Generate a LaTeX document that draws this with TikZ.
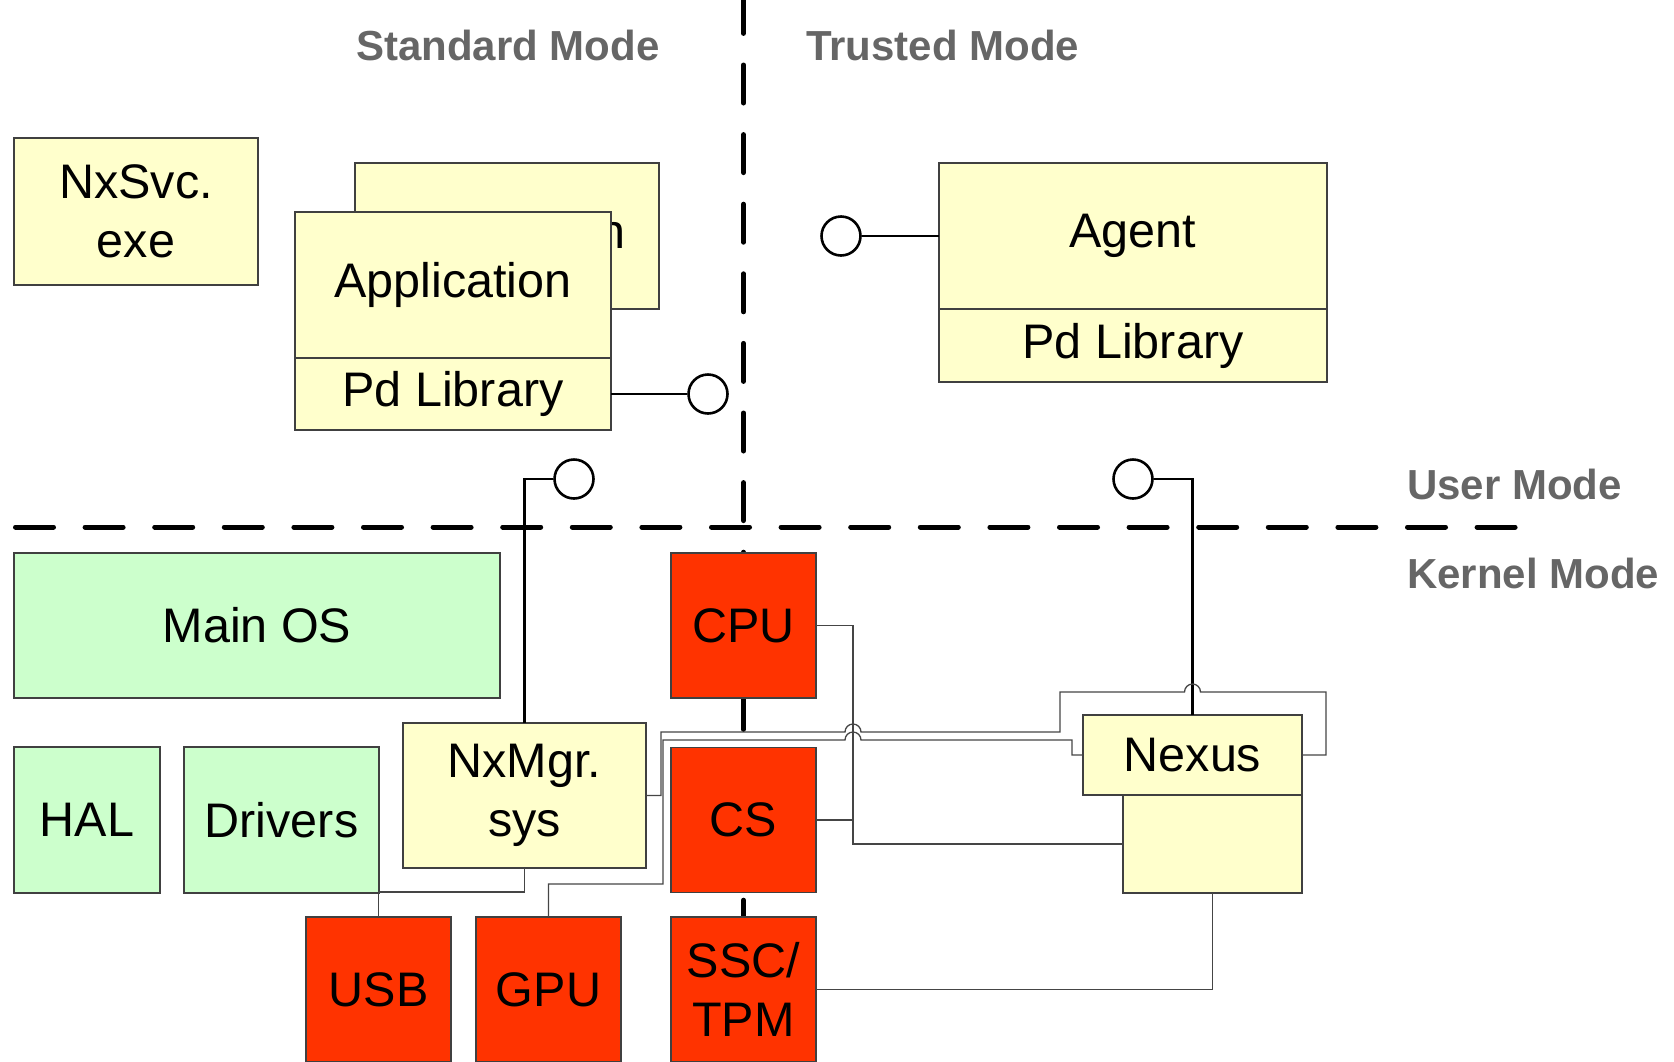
\documentclass[tikz,border=0pt]{standalone}
\usepackage{fontspec}
\setmainfont{Liberation Sans}
\usepackage{xcolor}
\definecolor{FilledUser}{HTML}{FFFFCC}
\definecolor{FilledKernel}{HTML}{CCFFCC}
\definecolor{FilledHardware}{HTML}{FF3300}
\definecolor{ModeLabel}{HTML}{666666}
\definecolor{WireGray}{HTML}{454545}
\usetikzlibrary{positioning}

\tikzset{
  box/.style={draw=black!75, line width=1.2pt, inner sep=0pt, outer sep=0pt,
    align=center, font=\fontsize{48.5}{59}\selectfont},
  userbox/.style={box, fill=FilledUser},
  kernelbox/.style={box, fill=FilledKernel},
  hardbox/.style={box, fill=FilledHardware, minimum width=145pt, minimum height=145pt},
  lollipop/.style={circle, draw=black, line width=2.6pt, fill=white,
    minimum size=39pt, inner sep=0pt},
  stem/.style={draw=black, line width=2.7pt},
  wire/.style={draw=WireGray, line width=1.3pt},
  modeline/.style={draw=black, line width=5pt, line cap=round,
    dash pattern=on 38pt off 31.6pt},
  modelabel/.style={anchor=base west, inner sep=0pt, text=ModeLabel,
    font=\bfseries\fontsize{42}{50}\selectfont}
}

\begin{document}
\begin{tikzpicture}[x=1pt, y=-1pt]

\clip (0,0) rectangle (1674,1061);

% Dibujamos las líneas de modo antes de las cajas, para que las cajas
% rojas tapen la línea vertical.
\draw[modeline] (15.5,527) -- (1521.5,527);
\draw[modeline] (743.5,-4.6) -- (743.5,1061);

\node[modelabel] (stdmode) at (356,60) {Standard Mode};
\node[modelabel] (trustmode) at (806,60) {Trusted Mode};
\node[modelabel] (usermode) at (1407,499) {User Mode};
\node[modelabel] (kernelmode) at (1407,588) {Kernel Mode};

% Modo usuario
\node[userbox, minimum width=244pt, minimum height=147pt] (nxsvc) at (136,211.5) {NxSvc.\\exe};
\node[userbox, minimum width=304pt, minimum height=146pt] (appback) at (507,236) {Application};
\node[userbox, minimum width=316pt, minimum height=146pt] (app) at (453,285) {Application};
\node[userbox, minimum width=316pt, minimum height=72pt, below=0pt of app] (applib) {Pd Library};
\node[userbox, minimum width=388pt, minimum height=146pt] (agent) at (1133,236) {Agent};
\node[userbox, minimum width=388pt, minimum height=73pt, below=0pt of agent] (agentlib) {Pd Library};

% Modo kernel
\node[kernelbox, minimum width=486pt, minimum height=145pt] (mainos) at (257,625.5) {Main OS};
\node[kernelbox, minimum width=146pt, minimum height=146pt] (hal) at (87,820) {HAL};
\node[kernelbox, minimum width=195pt, minimum height=146pt] (drivers) at (281.5,820) {Drivers};
\node[userbox, minimum width=243pt, minimum height=145pt] (nxmgr) at (524.5,795.5) {NxMgr.\\sys};
\node[userbox, minimum width=219pt, minimum height=80pt] (nexus) at (1192.5,755) {Nexus};
\node[userbox, minimum width=179pt, minimum height=98pt] (nexuslow) at (1212.5,844) {};

\node[hardbox] (cpu) at (743.5,625.5) {CPU};
\node[hardbox] (cs) at (743.5,820) {CS};
\node[hardbox] (usb) at (378.5,989.5) {USB};
\node[hardbox] (gpu) at (548.5,989.5) {GPU};
\node[hardbox] (ssc) at (743.5,989.5) {SSC/\\TPM};

\node[lollipop] (iapp) at (708,394) {};
\node[lollipop] (iagent) at (841,236) {};
\node[lollipop] (imgr) at (574,479) {};
\node[lollipop] (inexus) at (1133,479) {};

\draw[stem] (applib.east) -- (iapp);
\draw[stem] (iagent) -- (agent.west);
\draw[stem] (imgr.west) -| (nxmgr.north);
\draw[stem] (inexus.east) -| (nexus.north);

\draw[wire] (nxmgr.south) -- ++(0,24) -| (usb.north);
\draw[wire] (gpu.north) -- ++(0,-33) -| (663,740) -- (845,740)
  arc[start angle=180, end angle=0, radius=8pt] -- (1072,740) |- (nexus.west);
\draw[wire] (nxmgr.east) -- (661,795.5) -- (661,732) -- (845,732)
  arc[start angle=180, end angle=0, radius=8pt] -- (1060,732) -- (1060,692) -- (1184.5,692)
  arc[start angle=180, end angle=0, radius=8pt] -- (1326,692) |- (nexus.east);
\draw[wire] (cpu.east) -- ++(37,0) |- (nexuslow.west);
\draw[wire] (cs.east) -- ++(37,0) |- (nexuslow.west);
\draw[wire] (ssc.east) -| (nexuslow.south);

\end{tikzpicture}
\end{document}
